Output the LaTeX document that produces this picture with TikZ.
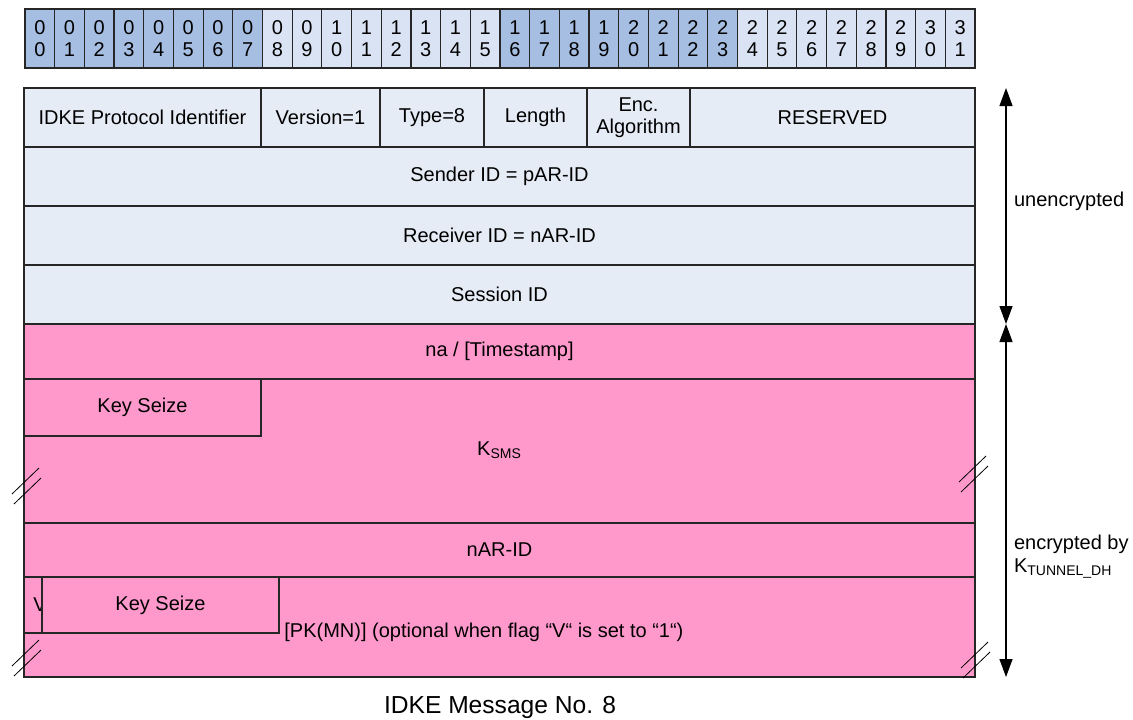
\documentclass[tikz,border=0pt]{standalone}
\usepackage{fontspec}
\setmainfont{Liberation Sans}
\usepackage{xcolor}
\usepackage{tikz}
\usetikzlibrary{arrows.meta,positioning,calc}
\definecolor{hd}{HTML}{A6BEE1}
\definecolor{hl}{HTML}{DAE3F4}
\definecolor{rw}{HTML}{E6ECF6}
\definecolor{pk}{HTML}{FF99CC}
\definecolor{ln}{HTML}{262626}
\newcommand{\brk}[2]{%
  \draw[line width=0.4pt] (#1,#2) -- ++(27,-26);
  \draw[line width=0.4pt] ($(#1,#2)+(2,10)$) -- ++(27,-26);}

\tikzset{
  fld/.style={draw=ln, line width=0.6pt, inner sep=0pt, outer sep=0pt,
    align=center, font=\fontsize{10}{11}\selectfont},
  bit/.style={fld, minimum width=14.84pt, minimum height=29.5pt},
  side/.style={anchor=west, align=left, font=\fontsize{10}{11.5}\selectfont},
  span/.style={draw=black, line width=0.6pt, {Triangle[length=9pt,width=6.5pt]}-{Triangle[length=9pt,width=6.5pt]}}
}

\begin{document}
\begin{tikzpicture}[x=0.5pt, y=-0.5pt]
  \useasboundingbox (0,0) rectangle (1133,719);
  % bit ruler
  \foreach \i in {0,...,31} {
    \pgfmathtruncatemacro\tens{\i/10}
    \pgfmathtruncatemacro\ones{mod(\i,10)}
    \pgfmathtruncatemacro\dk{mod(floor(\i/8),2)==0}
    \ifnum\dk=1 \def\cc{hd}\else\def\cc{hl}\fi
    \node[bit, fill=\cc] (b\i) at ({39.84+\i*29.6875},38.5) {\tens\\\ones};
  }
  % unencrypted part
  \node[fld, fill=rw, minimum width=118.5pt, minimum height=29.5pt] (pid) at (142.5,117.5) {IDKE Protocol Identifier};
  \node[fld, fill=rw, minimum width=59.5pt, minimum height=29.5pt] (ver) at (320.5,117.5) {Version=1};
  \node[fld, fill=rw, minimum width=52pt, minimum height=29.5pt] (typ) at (432,117.5) {Type=8};
  \node[fld, fill=rw, minimum width=51.5pt, minimum height=29.5pt] (len) at (535.5,117.5) {Length};
  \node[fld, fill=rw, minimum width=51.5pt, minimum height=29.5pt] (enc) at (638.5,117.5) {Enc.\\Algorithm};
  \node[fld, fill=rw, minimum width=142.5pt, minimum height=29.5pt] (rsv) at (832.5,117.5) {RESERVED};
  \node[fld, fill=rw, minimum width=475.5pt, minimum height=29.5pt] (snd) at (499.5,176.5) {Sender ID = pAR-ID};
  \node[fld, fill=rw, minimum width=475.5pt, minimum height=29.5pt] (rcv) at (499.5,235.5) {Receiver ID = nAR-ID};
  \node[fld, fill=rw, minimum width=475.5pt, minimum height=29.5pt] (ses) at (499.5,294.5) {Session ID};
  % encrypted part
  \node[fld, fill=pk, minimum width=475.5pt, minimum height=27.5pt] (na) at (499.5,351.5) {na / [Timestamp]};
  \node[fld, fill=pk, minimum width=475.5pt, minimum height=72pt] (ksm) at (499.5,451) {};
  \node[font=\fontsize{10}{11}\selectfont, inner sep=0pt] (kst) at (499.5,450) {K\textsubscript{SMS}};
  \node[fld, fill=pk, minimum width=118.5pt, minimum height=28.5pt] (ks1) at (142.5,407.5) {Key Seize};
  \node[fld, fill=pk, minimum width=475.5pt, minimum height=27pt] (nar) at (499.5,550) {nAR-ID};
  \node[fld, fill=pk, minimum width=475.5pt, minimum height=50pt] (pkm) at (499.5,627) {};
  \node[fld, fill=pk, minimum width=9pt, minimum height=28pt] (vfl) at (33,605) {};
  \node[font=\fontsize{10}{11}\selectfont, inner sep=0pt] (vtx) at (40,605) {V};
  \node[fld, fill=pk, minimum width=118.5pt, minimum height=28pt] (ks2) at (160.5,605) {Key Seize};
  \node[anchor=west, inner sep=0pt, font=\fontsize{10}{11}\selectfont] (opt) at (284,632)
    {[PK(MN)] (optional when flag “V“ is set to “1“)};
  % breaks
  \brk{12}{494}
  \brk{959}{482}
  \brk{12}{666}
  \brk{961}{668}
  % ranges
  \coordinate (r0) at (1006,88);
  \coordinate (r1) at (1006,324);
  \coordinate (r2) at (1006,677);
  \draw[span] (r0) -- (r1);
  \draw[span] (r1) -- (r2);
  \node[side] (unc) at (1007,201) {unencrypted};
  \node[side] (ecr) at (1007,557) {encrypted by\\K\textsubscript{TUNNEL\_DH}};
  \node[font=\fontsize{12.3}{14}\selectfont] (cap) at (500,707) {IDKE Message No. 8};
\end{tikzpicture}
\end{document}
